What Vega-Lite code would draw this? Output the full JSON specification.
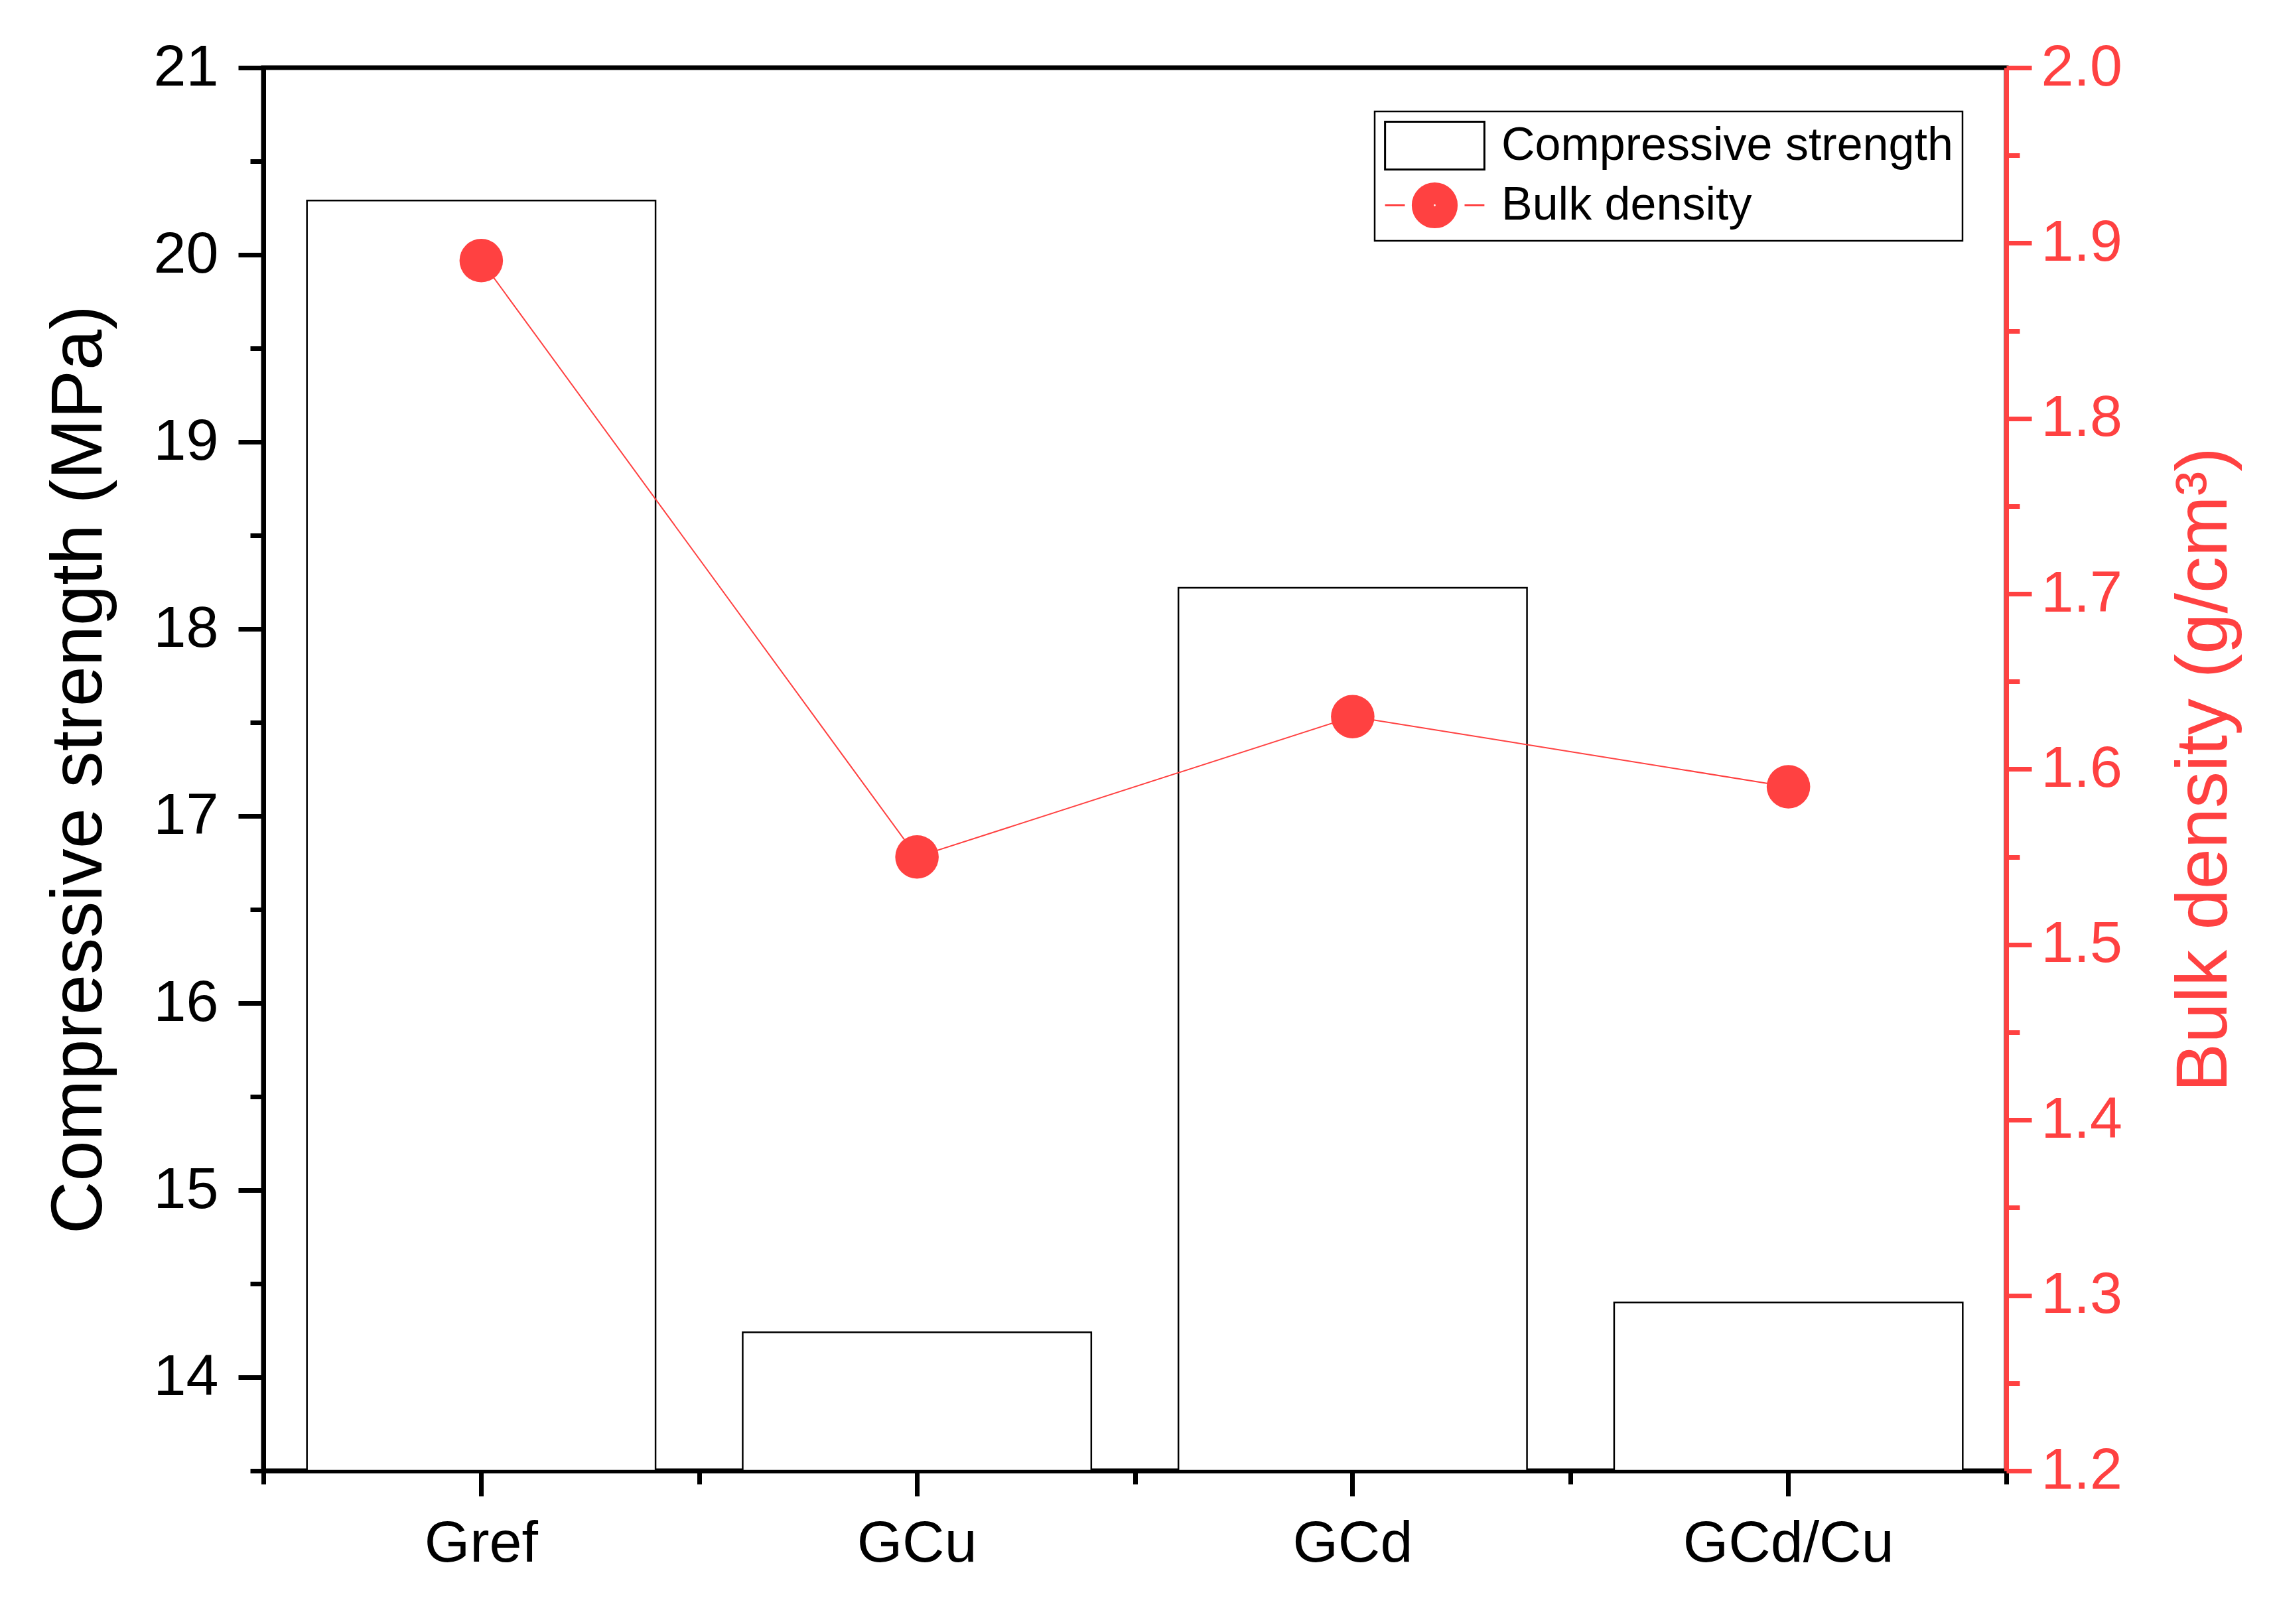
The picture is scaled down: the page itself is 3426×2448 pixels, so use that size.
{
  "$schema": "https://vega.github.io/schema/vega-lite/v6.json",
  "width": 2627,
  "height": 2115,
  "autosize": {"type": "none"},
  "padding": {"left": 397, "top": 102, "right": 402, "bottom": 231},
  "background": "white",
  "config": {
    "view": {"stroke": "black", "strokeWidth": 7},
    "font": "Liberation Sans",
    "axis": {"grid": false, "labelFont": "Liberation Sans", "titleFont": "Liberation Sans", "labelFontSize": 88, "titleFontSize": 110, "titleFontWeight": "normal", "domainWidth": 7, "tickWidth": 7, "labelFlush": false, "labelOverlap": false, "labelLimit": 1000},
    "legend": {"strokeWidth": 2.5}
  },
  "data": {
    "values": [
      {"sample": "Gref", "Compressive strength": 20.29, "Bulk density": 1.89},
      {"sample": "GCu", "Compressive strength": 14.24, "Bulk density": 1.55},
      {"sample": "GCd", "Compressive strength": 18.22, "Bulk density": 1.63},
      {"sample": "GCd/Cu", "Compressive strength": 14.40, "Bulk density": 1.59}
    ]
  },
  "encoding": {
    "x": {"field": "sample", "type": "nominal", "sort": null,
      "scale": {"paddingInner": 0, "paddingOuter": 0}}
  },
  "layer": [
    {
      "mark": {"type": "bar", "fill": "white", "stroke": "black", "strokeWidth": 2.5, "width": {"band": 0.8}},
      "encoding": {
        "x": {"field": "sample", "type": "nominal", "sort": null,
          "axis": {"orient": "bottom", "title": null, "labelAngle": 0, "domainColor": "black", "tickColor": "black", "labelColor": "black", "tickSize": 38, "labelPadding": 28, "labelLimit": 1000}},
        "y": {"field": "Compressive strength", "type": "quantitative",
          "scale": {"domain": [13.5, 21], "zero": false, "nice": false},
          "axis": {"orient": "left", "title": "Compressive strength (MPa)",
            "values": [13.5, 14, 14.5, 15, 15.5, 16, 16.5, 17, 17.5, 18, 18.5, 19, 19.5, 20, 20.5, 21],
            "format": ".0f",
            "labelExpr": "datum.value % 1 === 0 ? datum.label : ''",
            "tickSize": {"condition": {"test": "datum.value % 1 !== 0", "value": 20}, "value": 38},
            "domainColor": "black", "tickColor": "black", "labelColor": "black", "titleColor": "black",
            "labelPadding": 30, "titlePadding": 56}},
        "y2": {"datum": 13.5}
      }
    },
    {
      "mark": {"type": "rule", "opacity": 0},
      "encoding": {
        "x": {"field": "sample", "type": "nominal", "sort": null,
          "axis": {"orient": "bottom", "title": null, "labels": false, "domain": false, "tickBand": "extent", "tickSize": 20, "tickColor": "black"}}
      }
    },
    {
      "layer": [
        {
          "mark": {"type": "line", "color": "#FF4141", "strokeWidth": 2},
          "encoding": {
            "x": {"field": "sample", "type": "nominal", "sort": null, "axis": null},
            "y": {"field": "Bulk density", "type": "quantitative",
              "scale": {"domain": [1.2, 2.0], "zero": false, "nice": false},
              "axis": {"orient": "right", "title": "Bulk density (g/cm³)",
                "values": [1.2, 1.25, 1.3, 1.35, 1.4, 1.45, 1.5, 1.55, 1.6, 1.65, 1.7, 1.75, 1.8, 1.85, 1.9, 1.95, 2.0],
                "format": ".1f",
                "labelExpr": "round(datum.value * 100) % 10 === 0 ? datum.label : ''",
                "tickSize": {"condition": {"test": "round(datum.value * 100) % 10 !== 0", "value": 20}, "value": 38},
                "domainColor": "#FF4141", "tickColor": "#FF4141", "labelColor": "#FF4141", "titleColor": "#FF4141",
                "labelPadding": 14, "titlePadding": 70, "titleAngle": 270, "titleBaseline": "top"}}
          }
        },
        {
          "mark": {"type": "point", "filled": true, "size": 4300, "opacity": 1, "shape": "circle", "color": "#FF4141"},
          "encoding": {
            "x": {"field": "sample", "type": "nominal", "sort": null, "axis": null},
            "y": {"field": "Bulk density", "type": "quantitative", "scale": {"domain": [1.2, 2.0], "zero": false, "nice": false}}
          }
        }
      ]
    },
    {
      "transform": [{"fold": ["Compressive strength", "Bulk density"], "as": ["series", "v"]}],
      "mark": {"type": "point", "filled": true, "opacity": 0, "size": 0},
      "encoding": {
        "x": {"field": "sample", "type": "nominal", "sort": null, "axis": null},
        "fill": {"field": "series", "type": "nominal",
          "scale": {"domain": ["Compressive strength", "Bulk density"], "range": ["white", "#FF4141"]},
          "legend": {
            "title": null, "orient": "top-right", "offset": 66,
            "strokeColor": "black", "padding": 14, "fillColor": "white",
            "labelFont": "Liberation Sans", "labelFontSize": 70, "labelColor": "black", "labelLimit": 2000,
            "labelOffset": 63, "symbolOffset": 39, "rowPadding": 8, "symbolSize": 5184, "symbolStrokeWidth": 3,
            "symbolOpacity": 1
          }},
        "stroke": {"field": "series", "type": "nominal",
          "scale": {"domain": ["Compressive strength", "Bulk density"], "range": ["black", "#FF4141"]}},
        "shape": {"field": "series", "type": "nominal",
          "scale": {"domain": ["Compressive strength", "Bulk density"],
            "range": ["M-2.08,-1H2.08V1H-2.08Z", "M-2.08,0H-1.25M1.25,0H2.08M-0.92,0A0.92,0.92 0 1,1 0.92,0A0.92,0.92 0 1,1 -0.92,0M-0.85,0A0.85,0.85 0 1,1 0.85,0A0.85,0.85 0 1,1 -0.85,0M-0.78,0A0.78,0.78 0 1,1 0.78,0A0.78,0.78 0 1,1 -0.78,0M-0.71,0A0.71,0.71 0 1,1 0.71,0A0.71,0.71 0 1,1 -0.71,0M-0.64,0A0.64,0.64 0 1,1 0.64,0A0.64,0.64 0 1,1 -0.64,0M-0.57,0A0.57,0.57 0 1,1 0.57,0A0.57,0.57 0 1,1 -0.57,0M-0.5,0A0.5,0.5 0 1,1 0.5,0A0.5,0.5 0 1,1 -0.5,0M-0.43,0A0.43,0.43 0 1,1 0.43,0A0.43,0.43 0 1,1 -0.43,0M-0.36,0A0.36,0.36 0 1,1 0.36,0A0.36,0.36 0 1,1 -0.36,0M-0.29,0A0.29,0.29 0 1,1 0.29,0A0.29,0.29 0 1,1 -0.29,0M-0.22,0A0.22,0.22 0 1,1 0.22,0A0.22,0.22 0 1,1 -0.22,0M-0.15,0A0.15,0.15 0 1,1 0.15,0A0.15,0.15 0 1,1 -0.15,0M-0.08,0A0.08,0.08 0 1,1 0.08,0A0.08,0.08 0 1,1 -0.08,0"]}}
      }
    }
  ],
  "resolve": {"scale": {"y": "independent"}, "axis": {"x": "independent"}}
}
